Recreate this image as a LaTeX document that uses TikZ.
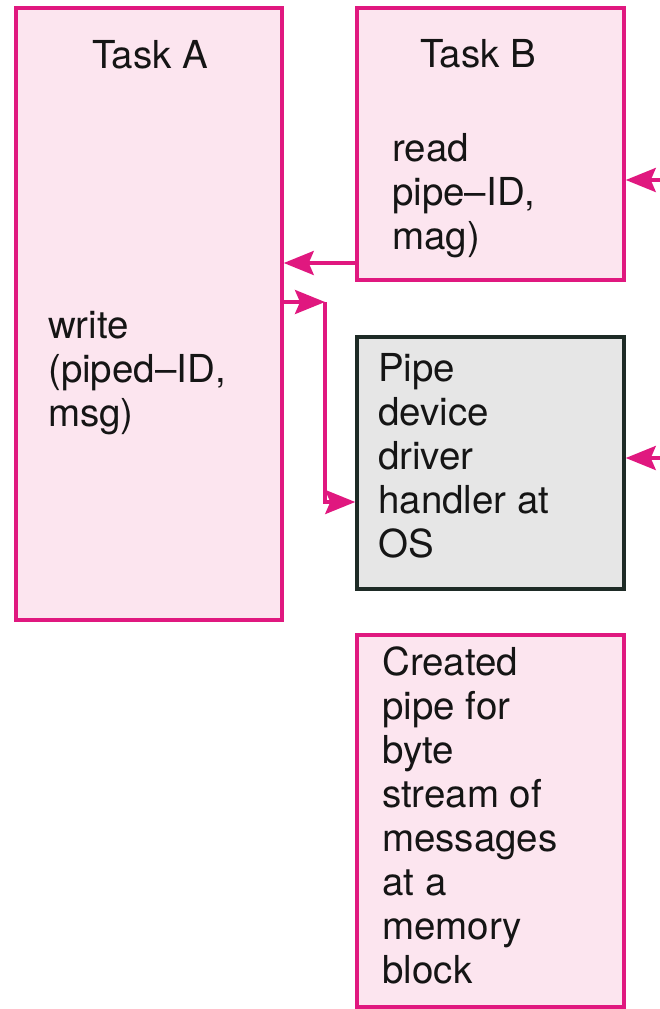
\documentclass[tikz,border=0pt]{standalone}
\usepackage{fontspec}
\setmainfont{TeX Gyre Heros}
\usetikzlibrary{arrows.meta}
\definecolor{mag}{HTML}{E0187F}
\definecolor{pinkfill}{HTML}{FCE5EF}
\definecolor{grayfill}{HTML}{E6E6E6}
\definecolor{darkline}{HTML}{1E2B26}
\definecolor{txt}{HTML}{151515}
\tikzset{
  pinkbox/.style={draw=mag, fill=pinkfill, line width=3.5pt, rectangle, inner sep=0pt, minimum width=267pt},
  graybox/.style={draw=darkline, fill=grayfill, line width=3.5pt, rectangle, inner sep=0pt, minimum width=267pt},
  lbl/.style={inner sep=0pt, text=txt, font=\fontsize{38.5}{44}\selectfont, align=left},
  arr/.style={draw=mag, line width=3.5pt, -{Stealth[length=30pt,width=24pt,inset=5pt,fill=mag]}}
}
\begin{document}
\begin{tikzpicture}[x=1pt,y=-1pt]
\useasboundingbox (0,0) rectangle (660,1009);
\node[pinkbox, minimum width=266pt, minimum height=612pt] (A) at (149,314) {};
\node[pinkbox, minimum height=272pt] (B) at (490.5,144) {};
\node[graybox, minimum height=252pt] (P) at (490.5,463) {};
\node[pinkbox, minimum height=372pt] (C) at (490.5,821) {};

\node[lbl, anchor=base] (tA) at (150,68) {Task A};
\node[lbl, anchor=base] (tB) at (478,67) {Task B};
\node[lbl, anchor=base west] (wA) at (48,426) {write\\(piped–ID,\\msg)};
\node[lbl, anchor=base west] (rB) at (392,249) {read\\pipe–ID,\\mag)};
\node[lbl, anchor=base west] (tP) at (378,557) {Pipe\\device\\driver\\handler at\\OS};
\node[lbl, anchor=base west] (tC) at (382,983) {Created\\pipe for\\byte\\stream of\\messages\\at a\\memory\\block};

\coordinate (turn) at (325,302);
\coordinate (inB) at (672,180);
\coordinate (inP) at (672,458);
\draw[arr] (B.west |- 0,263) -- (A.east |- 0,263);
\draw[arr] (A.east |- 0,302) -- (turn);
\draw[arr] (turn) |- (P.west |- 0,502);
\draw[arr] (inB) -- (B.east |- inB);
\draw[arr] (inP) -- (P.east |- inP);
\end{tikzpicture}
\end{document}
